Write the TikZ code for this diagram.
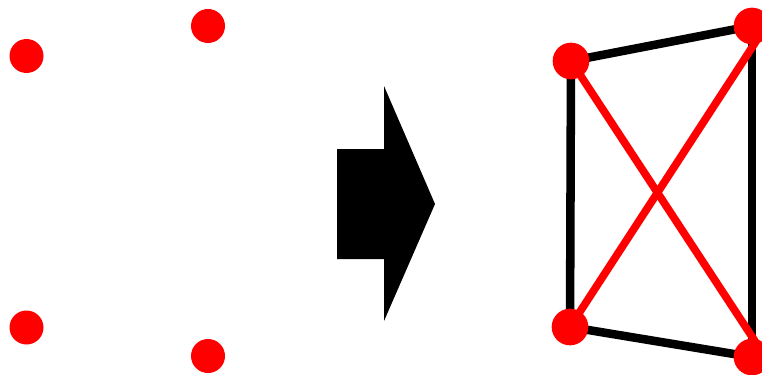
\documentclass[tikz,border=0pt]{standalone}
\usetikzlibrary{backgrounds}
\begin{document}
\begin{tikzpicture}[x=0.75pt,y=-0.75pt,
  dotsmall/.style={circle,fill=red,draw=none,inner sep=0pt,minimum size=25.5pt},
  dotbig/.style={circle,fill=red,draw=none,inner sep=0pt,minimum size=27.5pt},
  blackedge/.style={draw=black,line width=6.4pt},
  rededge/.style={draw=red,line width=5.8pt},
  bigarrow/.style={fill=black,draw=none}]
\useasboundingbox (0,0) rectangle (762,374);
% left: points only
\node[dotsmall] (l1) at (26.5,56) {};
\node[dotsmall] (l2) at (208,26) {};
\node[dotsmall] (l3) at (26.5,327.5) {};
\node[dotsmall] (l4) at (208,356) {};
% block arrow
\fill[bigarrow] (337,149) -- (384,149) -- (384,86) -- (435,204) -- (384,321) -- (384,259) -- (337,259) -- cycle;
% right: graph
\node[dotbig] (A) at (571,61) {};
\node[dotbig] (B) at (752,26) {};
\node[dotbig] (C) at (570,327) {};
\node[dotbig] (D) at (752,357) {};
\coordinate (Bt) at (766,26);
\coordinate (Dt) at (766,358);
\begin{pgfonlayer}{background}
\draw[blackedge] (A.center) -- (B.center);
\draw[blackedge] (A.center) -- (C.center);
\draw[blackedge] (B.center) -- (D.center);
\draw[blackedge] (C.center) -- (D.center);
\draw[rededge] (A.center) -- (Dt);
\draw[rededge] (C.center) -- (Bt);
\end{pgfonlayer}
\end{tikzpicture}
\end{document}
